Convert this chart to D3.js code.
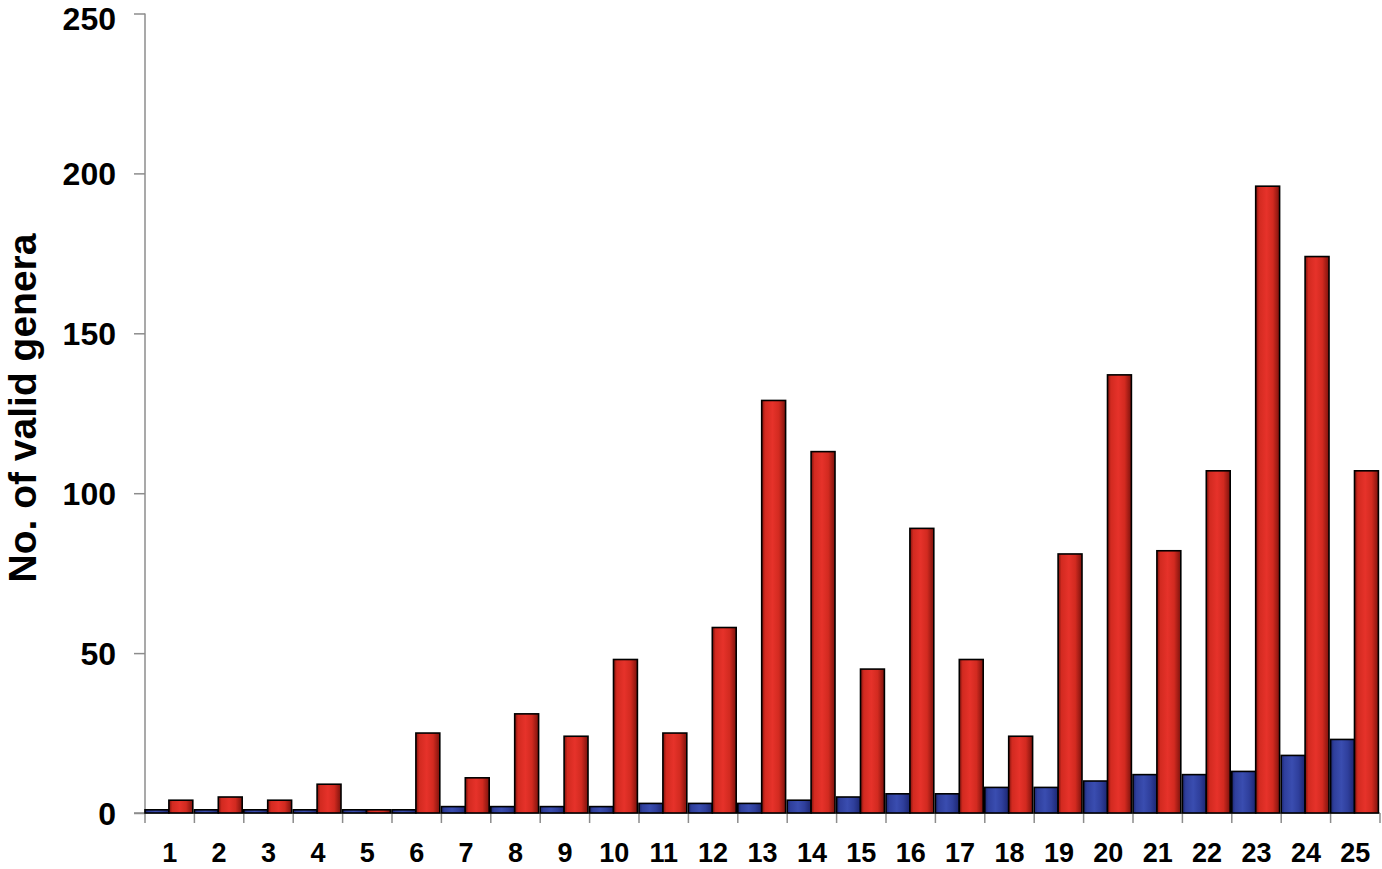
<!DOCTYPE html>
<html>
<head>
<meta charset="utf-8">
<script src="https://cdn.jsdelivr.net/npm/d3@7"></script>
<style>
  body { margin: 0; background: #fff; }
  text { font-family: "Liberation Sans", Arial, sans-serif; font-weight: bold; fill: #000; }
</style>
</head>
<body>
<svg id="chart"></svg>
<script>
// categories along the x axis
var categories = d3.range(1, 26).map(String);
// blue series (small counts)
var blueValues = [1, 1, 1, 1, 1, 1, 2, 2, 2, 2, 3, 3, 3, 4, 5, 6, 6, 8, 8, 10, 12, 12, 13, 18, 23];
// red series
var redValues = [4, 5, 4, 9, 1, 25, 11, 31, 24, 48, 25, 58, 129, 113, 45, 89, 48, 24, 81, 137, 82, 107, 196, 174, 107];
var yTicks = [0, 50, 100, 150, 200, 250];
var yTitle = "No. of valid genera";

var W = 1382, H = 869;
var margin = {top: 13.5, right: 2, bottom: 55.5, left: 145};

var svg = d3.select("#chart").attr("width", W).attr("height", H);

// gradients for the cylinder-ish bar shading
var defs = svg.append("defs");
function grad(id, dark, mid, light) {
    var g = defs.append("linearGradient").attr("id", id)
        .attr("x1", "0%").attr("x2", "100%").attr("y1", "0%").attr("y2", "0%");
    g.append("stop").attr("offset", "0%").attr("stop-color", dark);
    g.append("stop").attr("offset", "14%").attr("stop-color", mid);
    g.append("stop").attr("offset", "45%").attr("stop-color", light);
    g.append("stop").attr("offset", "72%").attr("stop-color", mid);
    g.append("stop").attr("offset", "100%").attr("stop-color", dark);
}
grad("redGrad", "#7c120c", "#d22a20", "#e6322a");
grad("blueGrad", "#1c2670", "#2f3f9c", "#3a4db0");

var x = d3.scaleBand()
    .domain(categories)
    .range([margin.left, 1380])
    .padding(0);

var x1 = d3.scaleBand()
    .domain(["blue", "red"])
    .range([0, x.bandwidth() - 1.6]);

var y = d3.scaleLinear()
    .domain([0, 250])
    .range([H - margin.bottom - 0.5, margin.top]);

var axisColor = "#8c8c8c";

// y axis
var yAxis = svg.append("g")
    .attr("transform", "translate(" + margin.left + ",0)")
    .call(d3.axisLeft(y).tickValues(yTicks).tickSize(11).tickPadding(18));
yAxis.select(".domain").attr("stroke", axisColor).attr("stroke-width", 1.5)
    .attr("d", "M0," + y(250) + "V" + y(0));
yAxis.selectAll(".tick line").attr("stroke", axisColor).attr("stroke-width", 1.5);
yAxis.selectAll(".tick text")
    .style("font-size", "32px")
    .attr("font-family", null)
    // top label sits against the edge, keep it inside the page
    .attr("dy", function(d) { return d === 250 ? "0.5em" : "0.36em"; });

// x axis line with ticks at band boundaries
var xg = svg.append("g");
xg.append("line")
    .attr("x1", margin.left - 11).attr("x2", 1380)
    .attr("y1", y(0)).attr("y2", y(0))
    .attr("stroke", axisColor).attr("stroke-width", 1.5);
xg.selectAll(".bt")
    .data(d3.range(0, categories.length + 1))
    .enter().append("line")
    .attr("x1", function(d) { return x.range()[0] + d * x.step(); })
    .attr("x2", function(d) { return x.range()[0] + d * x.step(); })
    .attr("y1", y(0)).attr("y2", y(0) + 10)
    .attr("stroke", axisColor).attr("stroke-width", 1.5);
xg.selectAll(".xl")
    .data(categories)
    .enter().append("text")
    .attr("x", function(d) { return x(d) + x.bandwidth() / 2; })
    .attr("y", 862)
    .attr("text-anchor", "middle")
    .style("font-size", "27px")
    .text(function(d) { return d; });

// bars
var groups = svg.append("g").selectAll("g")
    .data(categories)
    .enter().append("g")
    .attr("transform", function(d) { return "translate(" + x(d) + ",0)"; });

groups.append("rect")
    .attr("x", x1("blue"))
    .attr("width", x1.bandwidth())
    .attr("y", function(d, i) { return y(blueValues[i]); })
    .attr("height", function(d, i) { return y(0) - y(blueValues[i]); })
    .attr("fill", "url(#blueGrad)")
    .attr("stroke", "#000")
    .attr("stroke-width", 1.6);

groups.append("rect")
    .attr("x", x1("red"))
    .attr("width", x1.bandwidth())
    .attr("y", function(d, i) { return y(redValues[i]); })
    .attr("height", function(d, i) { return y(0) - y(redValues[i]); })
    .attr("fill", "url(#redGrad)")
    .attr("stroke", "#000")
    .attr("stroke-width", 1.6);

// y title
svg.append("text")
    .attr("transform", "translate(36," + 408 + ") rotate(-90)")
    .attr("text-anchor", "middle")
    .style("font-size", "39px")
    .text(yTitle);
</script>
</body>
</html>
